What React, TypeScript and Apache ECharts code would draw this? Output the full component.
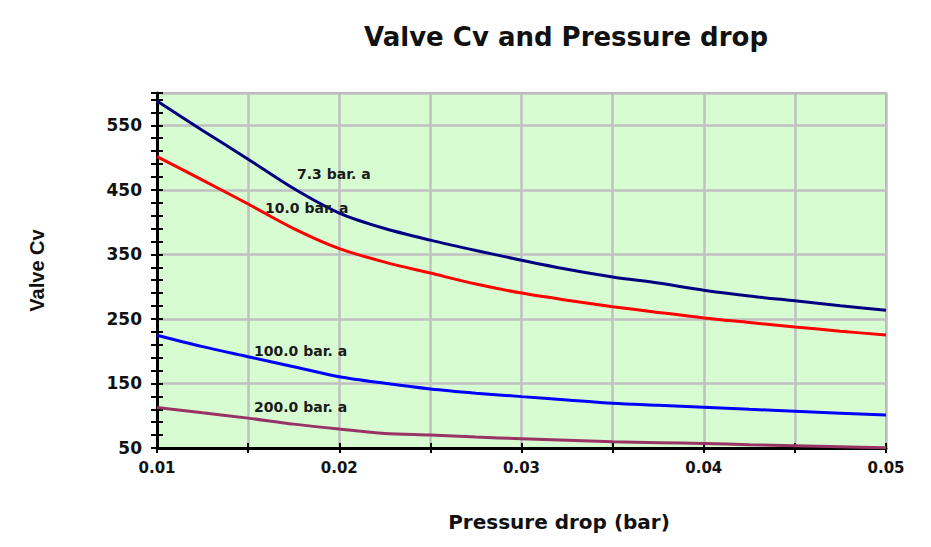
import React, { useEffect, useRef } from "react";
import * as echarts from "echarts";

const pressureDrop = [0.01, 0.0125, 0.015, 0.0175, 0.02, 0.0225, 0.025, 0.0275, 0.03, 0.0325, 0.035, 0.0375, 0.04, 0.0425, 0.045, 0.0475, 0.05];
const cv73 = [587.5, 542, 497.5, 452, 414, 390, 372, 356, 341, 327, 315, 305.5, 294.5, 285.5, 278, 270.5, 263.5];
const cv100 = [501.5, 465, 428, 390, 359, 338, 321, 304, 290, 279, 269, 260, 251.5, 244.5, 237.5, 231, 225];
const cv1000 = [224.8, 207, 191.4, 176, 160.5, 150.3, 141.5, 135, 129.6, 124.5, 119.4, 116.3, 113.3, 110, 107, 104, 101];
const cv2000 = [112.7, 104.5, 96.3, 87, 79.3, 72.5, 70, 67, 64.4, 62, 59.5, 58.3, 57, 55, 53.5, 52, 50.5];
const seriesNames = ["7.3 bar. a", "10.0 bar. a", "100.0 bar. a", "200.0 bar. a"];
const seriesColors = ["#000080", "#ff0000", "#0000ff", "#993366"];

const pair = (ys: number[]) => pressureDrop.map((x, i) => [x, ys[i]]);

export default function App() {
  const ref = useRef<HTMLDivElement>(null);
  useEffect(() => {
    document.body.style.margin = "0";
    const chart = echarts.init(ref.current!, null, { renderer: "svg" });
    const labelFont = { fontFamily: "DejaVu Sans", fontWeight: "bold" as const, color: "#111" };
    const tickAxisCommon = {
      axisLine: { show: false },
      axisLabel: { show: false },
      splitLine: { show: false },
    };
    const option: any = {
      animation: false,
      backgroundColor: "#ffffff",
      title: {
        text: "Valve Cv and Pressure drop",
        left: 561,
        top: 19,
        textAlign: "center",
        textStyle: { fontFamily: "DejaVu Sans", fontWeight: "bold", fontSize: 26, color: "#111" },
      },
      grid: {
        left: 157,
        right: 45,
        top: 93,
        bottom: 99,
        show: true,
        backgroundColor: "#d8fcd2",
        borderColor: "#808080",
        borderWidth: 1.5,
        outerBoundsMode: "none",
      },
      xAxis: [
        {
          type: "value",
          min: 0.01,
          max: 0.05,
          interval: 0.005,
          name: "Pressure drop (bar)",
          nameLocation: "middle",
          nameGap: 64,
          nameTextStyle: { ...labelFont, fontSize: 20, padding: [0, 0, 0, 75] },
          axisLine: { show: true, lineStyle: { color: "#000", width: 3 } },
          axisTick: { show: true, inside: true, length: 5, lineStyle: { color: "#000", width: 2 } },
          axisLabel: {
            ...labelFont,
            fontSize: 15,
            margin: 12,
            formatter: (v: number) => (Math.round(v * 1000) % 10 === 0 ? v.toFixed(2) : ""),
          },
          splitLine: { show: true, lineStyle: { color: "#c0c0c0", width: 2.5 } },
        },
        {
          type: "value",
          position: "bottom",
          min: 0.01,
          max: 0.05,
          interval: 0.005,
          ...tickAxisCommon,
          axisTick: { show: true, inside: false, length: 5, lineStyle: { color: "#000", width: 2 } },
        },
      ],
      yAxis: [
        {
          type: "value",
          min: 50,
          max: 600,
          interval: 100,
          name: "Valve Cv",
          nameLocation: "middle",
          nameGap: 110,
          nameRotate: 90,
          nameTextStyle: { fontFamily: "Liberation Sans", fontWeight: "bold", fontSize: 20, color: "#111" },
          axisLine: { show: true, lineStyle: { color: "#000", width: 3 } },
          axisTick: { show: false },
          axisLabel: {
            ...labelFont,
            fontSize: 17,
            margin: 15,
            formatter: (v: number) => (v > 560 ? "" : String(v)),
          },
          splitLine: { show: true, lineStyle: { color: "#c0c0c0", width: 2.5 } },
        },
        {
          type: "value",
          position: "left",
          min: 50,
          max: 600,
          interval: 20,
          ...tickAxisCommon,
          axisTick: { show: true, inside: false, length: 6, lineStyle: { color: "#000", width: 2 } },
        },
        {
          type: "value",
          position: "left",
          min: 50,
          max: 600,
          interval: 20,
          ...tickAxisCommon,
          axisTick: { show: true, inside: true, length: 6, lineStyle: { color: "#000", width: 2 } },
        },
      ],
      series: [cv73, cv100, cv1000, cv2000].map((ys, i) => ({
        type: "line",
        name: seriesNames[i],
        data: pair(ys),
        xAxisIndex: 0,
        yAxisIndex: 0,
        showSymbol: false,
        smooth: 0.3,
        lineStyle: { color: seriesColors[i], width: 3 },
        z: 3,
      })),
      graphic: [
        { x: 297, y: 174, label: seriesNames[0] },
        { x: 265, y: 208, label: seriesNames[1] },
        { x: 254, y: 351, label: seriesNames[2] },
        { x: 254, y: 407, label: seriesNames[3] },
      ].map((g) => ({
        type: "text",
        x: g.x,
        y: g.y,
        z: 10,
        style: {
          text: g.label,
          fontFamily: "DejaVu Sans",
          fontWeight: "bold",
          fontSize: 14,
          fill: "#1a1a1a",
          textVerticalAlign: "middle",
          verticalAlign: "middle",
        },
      })),
    };
    chart.setOption(option);
    return () => chart.dispose();
  }, []);
  return <div ref={ref} style={{ width: 931, height: 547 }} />;
}
